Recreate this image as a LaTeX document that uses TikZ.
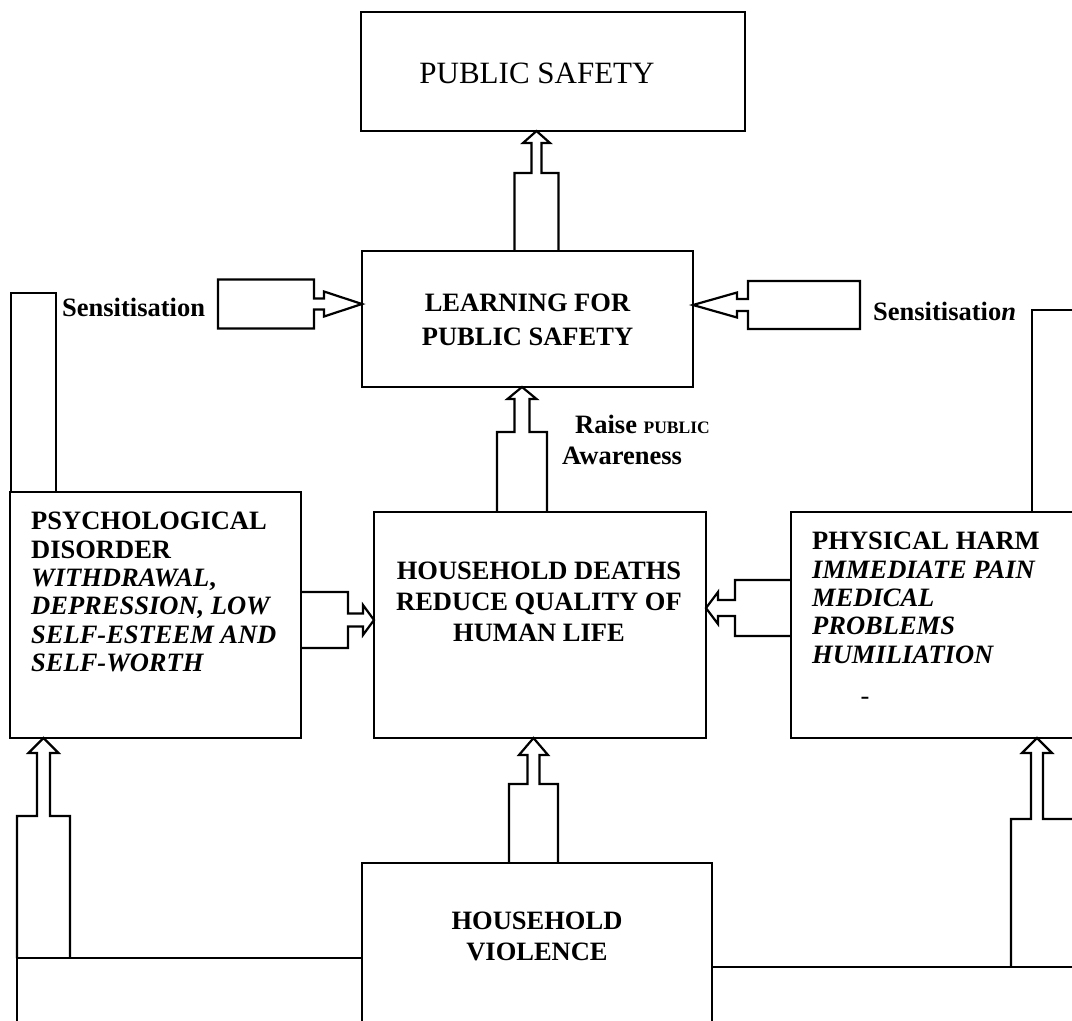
\documentclass[tikz,border=0pt]{standalone}
\usepackage{fontspec}
\setmainfont{Liberation Serif}
\usepackage{tikz}
\usetikzlibrary{positioning}

\begin{document}
\begin{tikzpicture}[x=1pt,y=-1pt]

\tikzstyle{box}=[draw, line width=2.2pt, inner sep=0pt, outer sep=0pt]
\tikzstyle{block}=[draw, line width=2.2pt, line join=miter]
\tikzstyle{heading}=[inner sep=0pt, align=center, font=\fontsize{26.5}{31}\selectfont\bfseries]
\tikzstyle{listing}=[inner sep=0pt, align=left, font=\fontsize{26.5}{28.4}\selectfont\bfseries]

\useasboundingbox (0,0) rectangle (1072,1021);
\clip (0,0) rectangle (1072,1021);

% main boxes
\node[box, minimum width=332pt, minimum height=226pt] (deaths) at (540,625) {};
\node[box, minimum width=331pt, minimum height=136pt, above=125pt of deaths, xshift=-12.5pt] (learning) {};
\node[box, minimum width=384pt, minimum height=119pt, above=120pt of learning, xshift=25.5pt] (safety) {};
\node[box, minimum width=291pt, minimum height=246pt, left=73pt of deaths, yshift=10pt] (psych) {};
\node[box, minimum width=299pt, minimum height=226pt, right=85pt of deaths] (physical) {};
\node[box, minimum width=350pt, minimum height=177pt, below=125pt of deaths, xshift=-3pt] (violence) {};

% side bars and bases
\node[box, minimum width=45pt, minimum height=199pt, anchor=south west] (leftbar) at ([xshift=1pt]psych.north west) {};
\node[box, minimum width=58pt, minimum height=202pt, anchor=south west] (rightbar) at ([xshift=241pt]physical.north west) {};
\node[box, minimum width=345pt, minimum height=90pt, anchor=north east] (leftbase) at ([yshift=-95pt]violence.north west) {};
\node[box, minimum width=378pt, minimum height=90pt, anchor=north west] (rightbase) at ([yshift=-104pt]violence.north east) {};

% texts
\node[inner sep=0pt, font=\fontsize{31}{36}\selectfont, below=51pt of safety.north, xshift=-16pt] (safetytext) {PUBLIC SAFETY};
\node[heading, font=\fontsize{26.5}{34}\selectfont\bfseries, below=43pt of learning.north] (learningtext) {LEARNING FOR\\PUBLIC SAFETY};
\node[heading, below=50pt of deaths.north, xshift=-1pt] (deathstext) {HOUSEHOLD DEATHS\\REDUCE QUALITY OF\\HUMAN LIFE};
\node[heading, below=49pt of violence.north] (violencetext) {HOUSEHOLD\\VIOLENCE};
\node[listing, below right=20pt and 21pt of psych.north west] (psychtext) {PSYCHOLOGICAL\\DISORDER\\\textit{WITHDRAWAL},\\\textit{DEPRESSION, LOW}\\\textit{SELF-ESTEEM AND}\\\textit{SELF-WORTH}};
\node[listing, below right=20pt and 21pt of physical.north west] (physicaltext) {PHYSICAL HARM\\\textit{IMMEDIATE PAIN}\\\textit{MEDICAL}\\\textit{PROBLEMS}\\\textit{HUMILIATION}};
\node[inner sep=0pt, font=\fontsize{26.5}{28}\selectfont] (dash) at (865,701) {-};
\node[listing, below right=5pt and 6pt of leftbar.north east] (sensleft) {Sensitisation};
\node[listing, anchor=north west] (sensright) at (873,302) {Sensitisatio\textit{n}};
\node[listing, anchor=north west, font=\fontsize{26.5}{31}\selectfont\bfseries] (raise) at (562,415) {\hspace*{13pt}Raise {\fontsize{17.5}{20}\selectfont PUBLIC}\\Awareness};

% block arrows
\draw[block] (514.5,0 |- learning.north) -- (514.5,173) -- (531.5,173) -- (531.5,143) -- (523,143) -- (536.5,0 |- safety.south) -- (550,143) -- (541.5,143) -- (541.5,173) -- (558.5,173) -- (558.5,0 |- learning.north);
\draw[block] (497,0 |- deaths.north) -- (497,432) -- (514.5,432) -- (514.5,399) -- (507.5,399) -- (522,0 |- learning.south) -- (536.5,399) -- (529.5,399) -- (529.5,432) -- (547,432) -- (547,0 |- deaths.north);
\draw[block] (509,0 |- violence.north) -- (509,784) -- (527.5,784) -- (527.5,755) -- (519,755) -- (533.5,0 |- deaths.south) -- (548,755) -- (539.5,755) -- (539.5,784) -- (558,784) -- (558,0 |- violence.north);
\draw[block] (17,0 |- leftbase.north) -- (17,816) -- (37,816) -- (37,753) -- (28.5,753) -- (43.5,0 |- psych.south) -- (58.5,753) -- (50,753) -- (50,816) -- (70,816) -- (70,0 |- leftbase.north);
\draw[block] (1011,0 |- rightbase.north) -- (1011,819) -- (1031,819) -- (1031,753) -- (1022,753) -- (1037,0 |- physical.south) -- (1052,753) -- (1043,753) -- (1043,819) -- (1090,819);
\draw[block] (218,279.5) -- (314,279.5) -- (314,298.5) -- (324,298.5) -- (324,291.5) -- (learning.west |- 0,304) -- (324,316.5) -- (324,309.5) -- (314,309.5) -- (314,328.5) -- (218,328.5) -- cycle;
\draw[block] (860,281) -- (748,281) -- (748,299) -- (737,299) -- (737,292.5) -- (learning.east |- 0,305) -- (737,317.5) -- (737,311) -- (748,311) -- (748,329) -- (860,329) -- cycle;
\draw[block] (psych.east |- 0,592) -- (348,592) -- (348,613.5) -- (363,613.5) -- (363,605) -- (deaths.west |- 0,620) -- (363,635) -- (363,626.5) -- (348,626.5) -- (348,648) -- (psych.east |- 0,648);
\draw[block] (physical.west |- 0,580) -- (735,580) -- (735,600) -- (718,600) -- (718,592) -- (deaths.east |- 0,608) -- (718,624) -- (718,616) -- (735,616) -- (735,636) -- (physical.west |- 0,636);

\end{tikzpicture}
\end{document}
